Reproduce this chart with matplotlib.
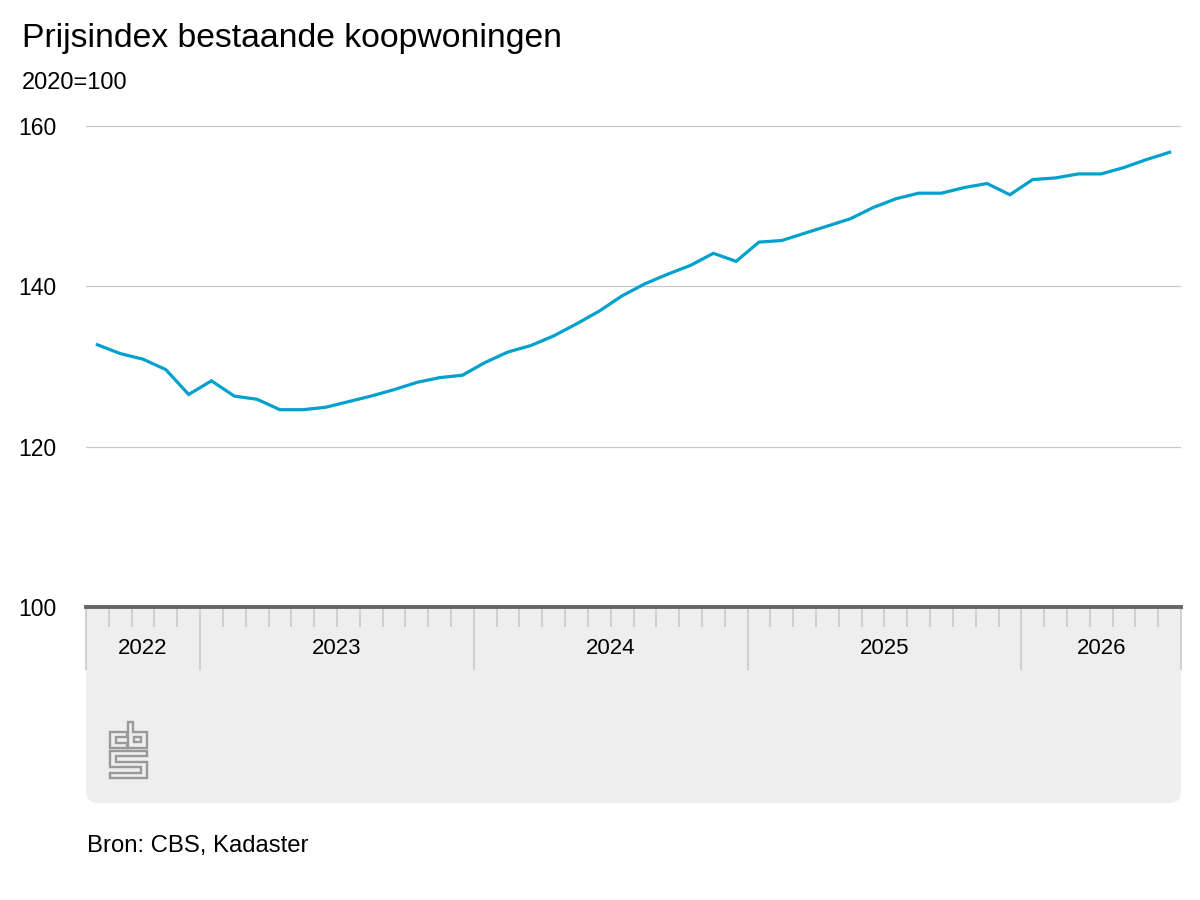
import matplotlib
matplotlib.use("Agg")
import matplotlib.pyplot as plt
from matplotlib.patches import FancyBboxPatch, Rectangle, Polygon
import pandas as pd

plt.rcParams['font.family'] = ['Liberation Sans', 'DejaVu Sans']

# maandelijkse prijsindex, aug 2022 t/m jul 2026 (2020=100)
months = pd.period_range('2022-08', periods=48, freq='M')
index_values = [
    132.7, 131.6, 130.9, 129.6, 126.5,
    128.2, 126.3, 125.9, 124.6, 124.6, 124.9, 125.6, 126.3, 127.1, 128.0, 128.6, 128.9,
    130.5, 131.8, 132.6, 133.8, 135.3, 136.9, 138.8, 140.3, 141.5, 142.6, 144.1, 143.1,
    145.5, 145.7, 146.6, 147.5, 148.4, 149.8, 150.9, 151.6, 151.6, 152.3, 152.8, 151.4,
    153.3, 153.5, 154.0, 154.0, 154.8, 155.8, 156.7,
]
y_ticks = [100, 120, 140, 160]

title = "Prijsindex bestaande koopwoningen"
unit = "2020=100"
source = "Bron: CBS, Kadaster"

blue = '#00a1cd'
panel_grey = '#eeeeee'
tick_grey = '#c6c6c6'

W, H = 1200, 900
fig = plt.figure(figsize=(12, 9), dpi=100)

# achtergrond-laag in pixels (grijs paneel + logo)
bg = fig.add_axes([0, 0, 1, 1], zorder=-1)
bg.set_xlim(0, W)
bg.set_ylim(H, 0)
bg.axis('off')

px_left, px_right, px_base, px_bottom = 86, 1181, 607, 803
bg.add_patch(FancyBboxPatch((px_left, px_base), px_right - px_left, px_bottom - px_base,
                            boxstyle="round,pad=0,rounding_size=12",
                            fc=panel_grey, ec='none'))
bg.add_patch(Rectangle((px_left, px_base), px_right - px_left, 40, fc=panel_grey, ec='none'))

# cbs logo (omtrek), in zoom-coordinaten van het voorbeeld
def logo(pts):
    return [(95 + x / 3, 715 + y / 3) for x, y in pts]

logo_shapes = [
    [(45, 50), (95, 50), (95, 65), (62, 65), (62, 85), (95, 85), (95, 100), (45, 100)],
    [(100, 20), (115, 20), (115, 50), (155, 50), (155, 100), (100, 100)],
    [(118, 65), (137, 65), (137, 82), (118, 82)],
    [(45, 108), (155, 108), (155, 123), (62, 123), (62, 140), (155, 140), (155, 190),
     (45, 190), (45, 175), (138, 175), (138, 157), (45, 157)],
]
for shp in logo_shapes:
    bg.add_patch(Polygon(logo(shp), closed=True, fill=False, ec='#999999', lw=1.7))

# hoofdgrafiek
y_lo, y_hi = 100, 161
ax_h = (y_hi - y_lo) * 8.02
ax = fig.add_axes([px_left / W, (H - px_base) / H, (px_right - px_left) / W, ax_h / H])
ax.set_facecolor('none')

x = list(range(len(months)))
ax.plot(x, index_values, color=blue, lw=2.3, solid_joinstyle='miter', zorder=3)

ax.set_xlim(-0.5, len(months) - 0.5)
ax.set_ylim(y_lo, y_hi)

ax.set_yticks(y_ticks)
ax.set_yticklabels([str(v) for v in y_ticks])
ax.tick_params(axis='y', length=0, pad=21, labelsize=16.5)
for v in y_ticks[1:]:
    ax.axhline(v, color='#c8c8c8', lw=0.9, zorder=1)

for s in ['top', 'right', 'left']:
    ax.spines[s].set_visible(False)
ax.spines['bottom'].set_color('#666666')
ax.spines['bottom'].set_linewidth(2.8)
ax.spines['bottom'].set_zorder(4)

# jaar-grenzen als lange ticks, maanden als korte
year_edges = [-0.5] + [i - 0.5 for i, m in enumerate(months) if m.month == 1 and i > 0] + [len(months) - 0.5]
month_edges = [i - 0.5 for i, m in enumerate(months) if m.month != 1 and i > 0]
ax.set_xticks(year_edges)
ax.set_xticks(month_edges, minor=True)
ax.set_xticklabels([])
ax.tick_params(axis='x', which='major', length=45, width=1.1, color=tick_grey, direction='out')
ax.tick_params(axis='x', which='minor', length=14.5, width=1.1, color=tick_grey, direction='out')

label_y = -(648 - px_base) / ax_h
for a, b in zip(year_edges[:-1], year_edges[1:]):
    yr = months[int(a + 0.5)].year
    ax.text((a + b) / 2, label_y, str(yr), transform=ax.get_xaxis_transform(),
            ha='center', va='center', fontsize=16)

fig.text(22 / W, 1 - 47 / H, title, fontsize=24.3, va='baseline', ha='left')
fig.text(22 / W, 1 - 89 / H, unit, fontsize=17, va='baseline', ha='left')
fig.text(87 / W, 1 - 852 / H, source, fontsize=17.2, va='baseline', ha='left')

fig.savefig('out.png', dpi=100)
